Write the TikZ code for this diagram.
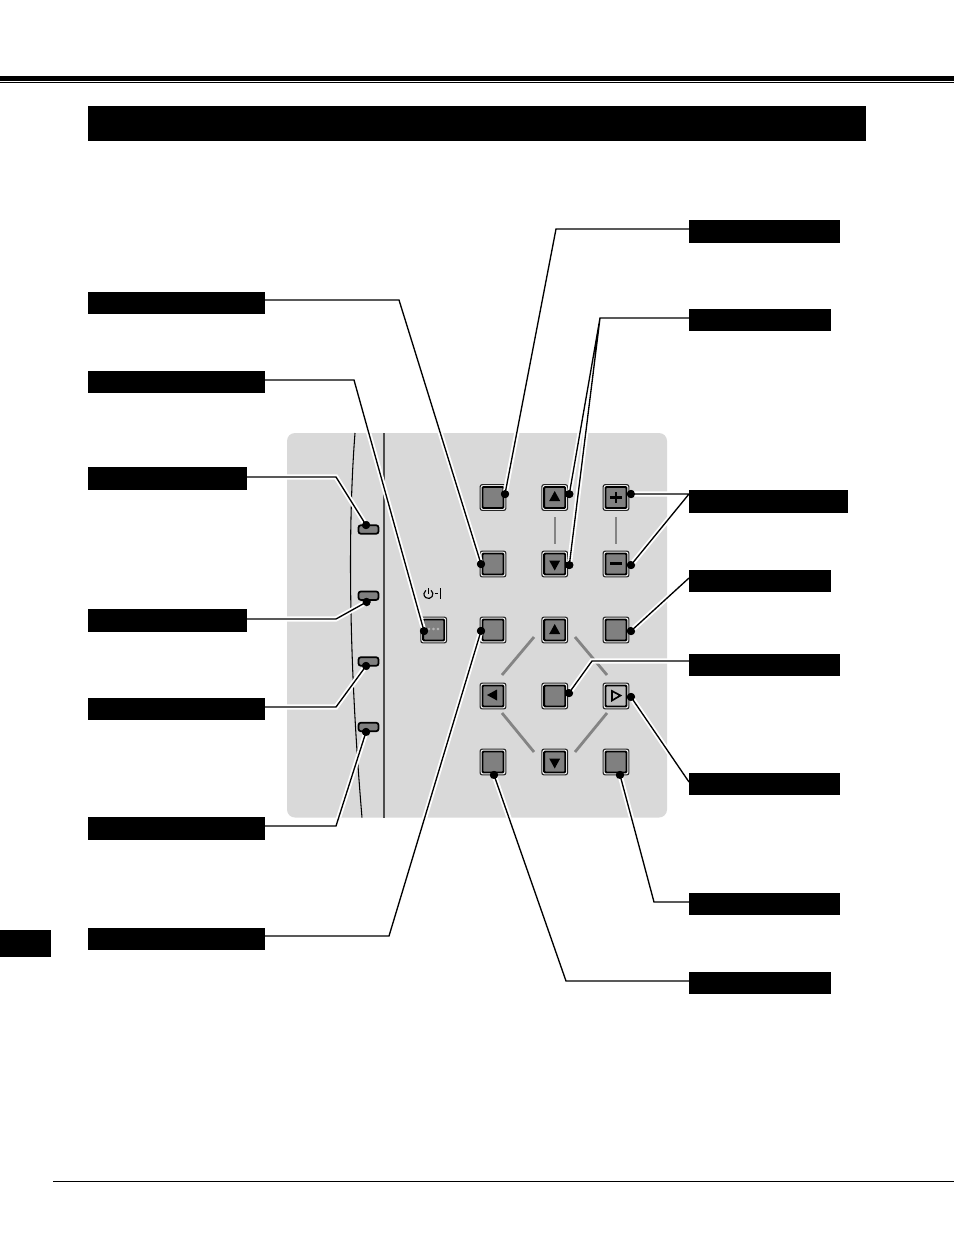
\documentclass[tikz,border=0pt]{standalone}
\usetikzlibrary{calc}
\pgfdeclarelayer{top}
\pgfsetlayers{main,top}
\definecolor{panelgray}{HTML}{D9D9D9}
\definecolor{btngray}{HTML}{808080}
\definecolor{sepgray}{HTML}{848484}
\definecolor{rimgray}{HTML}{BDBDBD}
\tikzset{
  lab/.style={rectangle,fill=black,draw=none,inner sep=0pt,outer sep=0pt},
  btnouter/.style={rectangle,rounded corners=1.6pt,draw=black!85,line width=.85pt,fill=white,minimum size=19.3pt,inner sep=0pt,outer sep=0pt},
  btninner/.style={rectangle,rounded corners=.8pt,draw=black,line width=1.4pt,fill=btngray,minimum size=15.8pt,inner sep=0pt,outer sep=0pt},
  led/.style={rectangle,rounded corners=1.8pt,draw=black,line width=1.3pt,fill=btngray,minimum width=15pt,minimum height=6.4pt,inner sep=0pt,outer sep=0pt},
  dotmark/.style={circle,fill=black,draw=none,minimum size=6.2pt,inner sep=0pt,outer sep=0pt},
  conn/.style={draw=black,line width=1pt,line join=miter,preaction={draw=white,line width=3.8pt}},
  sep/.style={draw=sepgray,line width=2.1pt},
  septhin/.style={draw=sepgray,line width=1.5pt},
  tri/.style={fill=black,draw=none}
}
\newcommand{\lab}[5]{\node[lab,minimum width={(#4-#2)*.75pt},minimum height={(#5-#3)*.75pt}] (#1) at ({(#2+#4)/2},{(#3+#5)/2}) {};}
\newcommand{\btn}[3]{\node[btnouter] (#1o) at (#2,#3) {};\node[btninner] (#1) at (#2,#3) {};}
\begin{document}
\begin{tikzpicture}[x=.75pt,y=-.75pt]
\useasboundingbox (0,0) rectangle (954,1235);
\fill[white] (0,0) rectangle (954,1235);
% rules and bars
\fill[black] (0,76) rectangle (954,80.5);
\fill[black] (0,82) rectangle (954,83.2);
\fill[black] (53,1180.8) rectangle (954,1182);
\node[lab,minimum width=583.5pt,minimum height=26.25pt] (title) at (477,123.5) {};
\node[lab,minimum width=38.25pt,minimum height=20.25pt] (tab) at (25.5,943.5) {};
% panel
\fill[panelgray,rounded corners=6pt] (287,433) rectangle (667,817.5);
\draw[black,line width=.8pt] (355,433) .. controls (349,510) and (347,640) .. (362,817.5);
\draw[black!70,line width=1.2pt] (384,433) -- (384,817.5);
% leds
\node[led] (led1) at (368.5,529.5) {};
\node[led] (led2) at (368.5,595.7) {};
\node[led] (led3) at (368.5,661.5) {};
\node[led] (led4) at (368.5,727) {};
% power symbol
\draw[black,line width=.85pt] (431,590.3) arc[start angle=305,end angle=595,radius=4.5];
\draw[black,line width=.85pt] (428.4,588) -- (428.4,594);
\draw[black,line width=.7pt] (434.5,593.7) -- (438,593.7);
\draw[black,line width=.7pt] (440.3,588) -- (440.3,599);
% separators
\draw[septhin] (554.5,517) -- (554.5,544);
\draw[septhin] (616,517) -- (616,544);
\draw[sep] (534,637) -- (502,675);
\draw[sep] (575,637) -- (607,675);
\draw[sep] (502,713) -- (534,752);
\draw[sep] (607,713) -- (575,752);
% buttons
\btn{b11}{493}{497.5}
\btn{b12}{554.7}{497.5}
\btn{b13}{616}{497.5}
\btn{b21}{493}{564}
\btn{b22}{554.7}{564}
\btn{b23}{616}{564}
\btn{b31}{493}{630}
\btn{b32}{554.7}{630}
\btn{b33}{616}{630}
\btn{b41}{493}{696}
\btn{b42}{554.7}{696}
\node[btnouter] (b43o) at (616,696) {};
\node[btninner,fill=rimgray] (b43) at (616,696) {};
\btn{b51}{493}{762}
\btn{b52}{554.7}{762}
\btn{b53}{616}{762}
\btn{pw}{433.7}{630}
% glyphs on buttons
\fill[tri] (554.7,491) -- (560.2,501) -- (549.2,501) -- cycle;
\fill[tri] (554.7,570.5) -- (560.2,560.5) -- (549.2,560.5) -- cycle;
\fill[tri] (554.7,624) -- (560.2,634) -- (549.2,634) -- cycle;
\fill[tri] (554.7,768.5) -- (560.2,758.5) -- (549.2,758.5) -- cycle;
\fill[tri] (487,695) -- (497,689.5) -- (497,700.5) -- cycle;
\draw[black,line width=1.25pt,line join=miter] (620.5,695.5) -- (612,691) -- (612,700.5) -- cycle;
\draw[black,line width=1.6pt] (610,497.5) -- (621.8,497.5);
\draw[black,line width=1.6pt] (615.8,491.8) -- (615.8,503.2);
\draw[black,line width=1.6pt] (610,563.5) -- (621.8,563.5);
\draw[black!25,line width=.4pt] (429,629) circle[radius=1];
\draw[black!25,line width=.4pt] (433.5,629) circle[radius=1];
\draw[black!25,line width=.4pt] (438,629) circle[radius=1];
% labels
\begin{pgfonlayer}{top}
\lab{l1}{88}{292}{265}{314}
\lab{l2}{88}{371}{265}{393}
\lab{l3}{88}{467}{247}{490}
\lab{l4}{88}{609}{247}{632}
\lab{l5}{88}{698}{265}{720}
\lab{l6}{88}{817}{265}{840}
\lab{l7}{88}{928}{265}{950}
\lab{r1}{689}{220}{840}{243}
\lab{r2}{689}{309}{831}{331}
\lab{r3}{689}{490}{848}{513}
\lab{r4}{689}{570}{831}{592}
\lab{r5}{689}{654}{840}{676}
\lab{r6}{689}{773}{840}{795}
\lab{r7}{689}{893}{840}{915}
\lab{r8}{689}{972}{831}{994}
\end{pgfonlayer}
% end points
\node[dotmark] (dl1) at (481,564) {};
\node[dotmark] (dl2) at (424,631) {};
\node[dotmark] (dl3) at (366,525) {};
\node[dotmark] (dl4) at (366.5,602) {};
\node[dotmark] (dl5) at (366,666) {};
\node[dotmark] (dl6) at (366,732) {};
\node[dotmark] (dl7) at (481,631) {};
\node[dotmark] (dr1) at (505,494) {};
\node[dotmark] (dr2a) at (569.3,494) {};
\node[dotmark] (dr2b) at (569.3,565) {};
\node[dotmark] (dr3a) at (631,494) {};
\node[dotmark] (dr3b) at (631,565) {};
\node[dotmark] (dr4) at (631,631) {};
\node[dotmark] (dr5) at (569,693) {};
\node[dotmark] (dr6) at (631,697) {};
\node[dotmark] (dr7) at (620,775) {};
\node[dotmark] (dr8) at (494,775) {};
% bends
\coordinate (k1) at (399,300);
\coordinate (k2) at (354,380);
\coordinate (k3) at (336,477);
\coordinate (k4) at (336,619);
\coordinate (k5) at (336,707);
\coordinate (k6) at (336,826);
\coordinate (k7) at (389,936);
\coordinate (q1) at (556,229);
\coordinate (q2) at (600,318);
\coordinate (q3) at (689,494);
\coordinate (q5) at (592,661);
\coordinate (q7) at (654,902);
\coordinate (q8) at (566,981);
% connectors
\path[conn] (l1.east) ++(0,-3) -- (k1) -- (dl1.center);
\path[conn] (l2.east) ++(0,-2) -- (k2) -- (dl2.center);
\path[conn] (l3.east) ++(0,-1.5) -- (k3) -- (dl3.center);
\path[conn] (l4.east) ++(0,-1.5) -- (k4) -- (dl4.center);
\path[conn] (l5.east) ++(0,-2) -- (k5) -- (dl5.center);
\path[conn] (l6.east) ++(0,-2.5) -- (k6) -- (dl6.center);
\path[conn] (l7.east) ++(0,-3) -- (k7) -- (dl7.center);
\path[conn] (r1.west) ++(0,-2.5) -- (q1) -- (dr1.center);
\path[conn] (r2.west) ++(0,-2) -- (q2) -- (dr2b.center) (q2) -- (dr2a.center);
\path[conn] (dr3a.center) -- (q3) -- (dr3b.center);
\path[conn] (r4.west) ++(0,-3) -- (dr4.center);
\path[conn] (r5.west) ++(0,-4) -- (q5) -- (dr5.center);
\path[conn] (r6.west) ++(0,-2) -- (dr6.center);
\path[conn] (r7.west) ++(0,-2) -- (q7) -- (dr7.center);
\path[conn] (r8.west) ++(0,-2) -- (q8) -- (dr8.center);
% redraw the dots over their lines
\foreach \x/\y in {481/564,424/631,366/525,366.5/602,366/666,366/732,481/631,505/494,569.3/494,569.3/565,631/494,631/565,631/631,569/693,631/697,620/775,494/775}
  \fill[black] (\x,\y) circle[radius=4];
\end{tikzpicture}
\end{document}
